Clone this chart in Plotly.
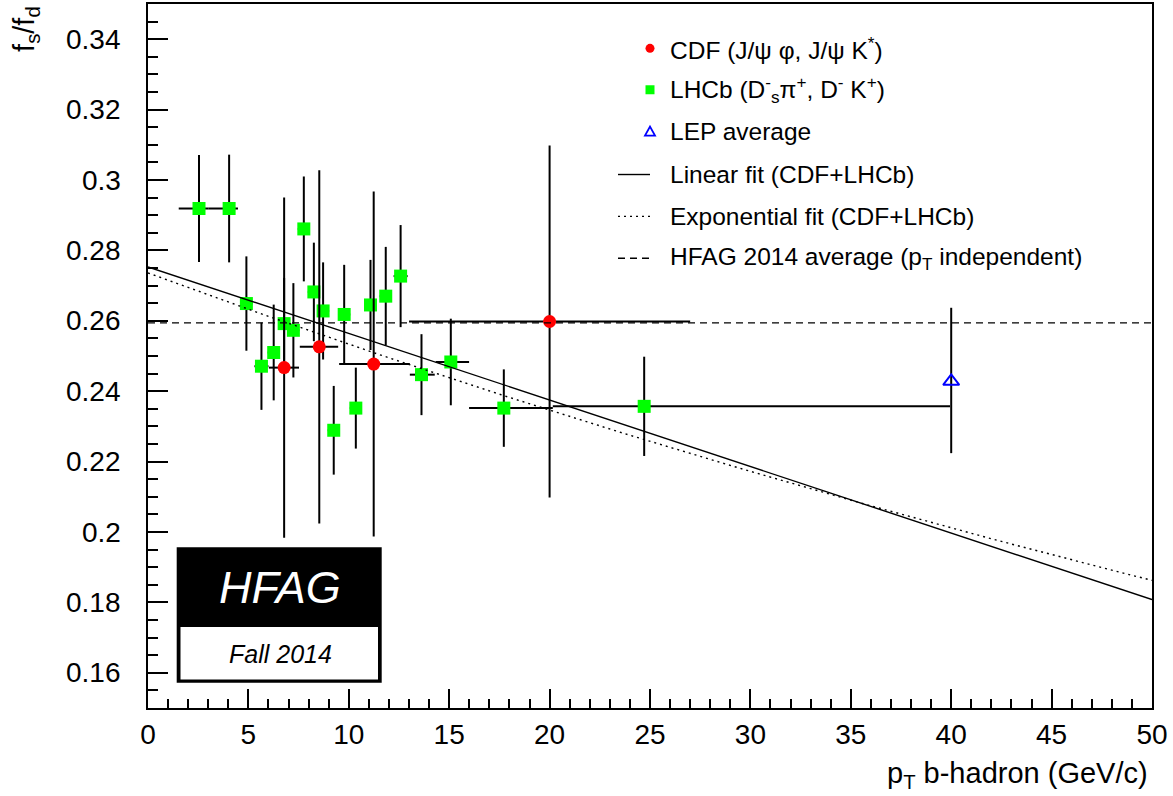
import numpy as np
import plotly.graph_objects as go

FONT = "Liberation Sans, Arial, Helvetica, sans-serif"

# ---------------- data ----------------
# LHCb (Ds- pi+, D- K+)
lhcb_pt = [2.54, 4.04, 4.90, 5.65, 6.26, 6.78, 7.24, 7.76, 8.26, 8.72,
           9.25, 9.77, 10.35, 11.08, 11.84, 12.58, 13.62, 15.08, 17.72, 24.71]
lhcb_fsfd = [0.2919, 0.2919, 0.2649, 0.2471, 0.2510, 0.2592, 0.2573, 0.2861, 0.2682, 0.2628,
             0.2289, 0.2618, 0.2352, 0.2645, 0.2670, 0.2727, 0.2447, 0.2483, 0.2352, 0.2357]
lhcb_err = [0.0152, 0.0153, 0.0134, 0.0124, 0.0136, 0.0130, 0.0134, 0.0149, 0.0140, 0.0138,
            0.0126, 0.0141, 0.0115, 0.0128, 0.0140, 0.0145, 0.0115, 0.0123, 0.0110, 0.0141]
lhcb_pt_lo = [1.01, 1.04, 0.30, 0.35, 0.30, 0.30, 0.30, 0.30, 0.30, 0.30,
              0.30, 0.30, 0.30, 0.30, 0.30, 0.35, 0.58, 0.75, 1.73, 4.55]
lhcb_pt_hi = [0.46, 0.44, 0.30, 0.35, 0.30, 0.30, 0.30, 0.30, 0.30, 0.30,
              0.30, 0.30, 0.30, 0.30, 0.30, 0.35, 0.66, 0.91, 2.44, 15.23]

# CDF (J/psi phi, J/psi K*)
cdf_pt = [6.78, 8.53, 11.24, 20.0]
cdf_fsfd = [0.2467, 0.2526, 0.2477, 0.2598]
cdf_err = [0.0483, 0.0502, 0.0490, 0.0500]
cdf_pt_lo = [0.76, 0.97, 1.72, 7.0]
cdf_pt_hi = [0.74, 0.94, 1.80, 7.0]

# LEP average
lep_pt = [40.0]
lep_fsfd = [0.2428]
lep_err_hi = [0.0209]
lep_err_lo = [0.0204]

# fits and average
lin_intercept, lin_slope = 0.2753, -0.00189
exp_norm, exp_slope = 0.2736, 0.00769
hfag_avg = 0.2594
pt_range = [0.0, 50.0]

# axis ticks
y_ticks = [0.16, 0.18, 0.20, 0.22, 0.24, 0.26, 0.28, 0.30, 0.32, 0.34]
y_tick_labels = ["0.16", "0.18", "0.2", "0.22", "0.24", "0.26", "0.28", "0.3", "0.32", "0.34"]

# ---------------- figure ----------------
fig = go.Figure()

errstyle = dict(color="black", thickness=2, width=0)

fig.add_trace(go.Scatter(
    x=lhcb_pt, y=lhcb_fsfd, mode="markers",
    marker=dict(symbol="square", size=13, color="#00ff00", line=dict(width=0)),
    error_x=dict(type="data", symmetric=False, array=lhcb_pt_hi, arrayminus=lhcb_pt_lo, **errstyle),
    error_y=dict(type="data", array=lhcb_err, **errstyle),
    showlegend=False))

fig.add_trace(go.Scatter(
    x=cdf_pt, y=cdf_fsfd, mode="markers",
    marker=dict(symbol="circle", size=13, color="#ff0000", line=dict(width=0)),
    error_x=dict(type="data", symmetric=False, array=cdf_pt_hi, arrayminus=cdf_pt_lo, **errstyle),
    error_y=dict(type="data", array=cdf_err, **errstyle),
    showlegend=False))

fig.add_trace(go.Scatter(
    x=lep_pt, y=lep_fsfd, mode="markers",
    marker=dict(symbol="triangle-up-open", size=14, color="#0000ff", line=dict(width=2, color="#0000ff")),
    error_y=dict(type="data", symmetric=False, array=lep_err_hi, arrayminus=lep_err_lo, **errstyle),
    showlegend=False))

xs = np.linspace(pt_range[0], pt_range[1], 101)
fig.add_trace(go.Scatter(
    x=pt_range, y=[lin_intercept + lin_slope * p for p in pt_range], mode="lines",
    line=dict(color="black", width=1.4), showlegend=False, hoverinfo="skip"))
fig.add_trace(go.Scatter(
    x=xs, y=exp_norm * np.exp(-exp_slope * xs), mode="lines",
    line=dict(color="black", width=1.4, dash="2px,4px"), showlegend=False, hoverinfo="skip"))
fig.add_trace(go.Scatter(
    x=pt_range, y=[hfag_avg, hfag_avg], mode="lines",
    line=dict(color="black", width=1.4, dash="7px,5px"), showlegend=False, hoverinfo="skip"))

# ---------------- layout ----------------
W, H = 1173, 796
L, R, T, B = 148, 21, 2, 88
pw, ph = W - L - R, H - T - B


def px(xp):
    return (xp - L) / pw


def py(yp):
    return (H - B - yp) / ph


fig.update_layout(
    width=W, height=H,
    margin=dict(l=L, r=R, t=T, b=B, pad=0),
    paper_bgcolor="white", plot_bgcolor="white",
    font=dict(family=FONT, color="black"),
    showlegend=False,
    xaxis=dict(range=[0, 50], showgrid=False, zeroline=False,
               showline=True, linecolor="black", linewidth=2, mirror=True,
               ticks="inside", ticklen=19, tickwidth=1.5, tickcolor="black",
               tick0=0, dtick=5, tickfont=dict(size=28, family=FONT),
               ticklabelstandoff=0,
               minor=dict(ticks="inside", dtick=1, ticklen=9, tickwidth=1.5, tickcolor="black", showgrid=False)),
    yaxis=dict(range=[0.15, 0.35], showgrid=False, zeroline=False,
               showline=True, linecolor="black", linewidth=2, mirror=True,
               ticks="inside", ticklen=20, tickwidth=1.5, tickcolor="black",
               tickvals=y_ticks, showticklabels=False,
               minor=dict(ticks="inside", dtick=0.005, tick0=0.15, ticklen=10, tickwidth=1.5, tickcolor="black", showgrid=False)),
)

shapes = []
annotations = []

# y tick labels, placed on the y scale
for v, t in zip(y_ticks, y_tick_labels):
    annotations.append(dict(text=t, xref="paper", yref="y", x=px(123), y=v,
                            xanchor="right", yanchor="middle", showarrow=False,
                            font=dict(size=28, family=FONT)))

# axis titles
annotations.append(dict(text="p<sub>T</sub> b-hadron (GeV/c)", xref="paper", yref="paper",
                        x=px(1150), y=py(775), xanchor="right", yanchor="middle",
                        showarrow=False, font=dict(size=29, family=FONT)))
annotations.append(dict(text="f<sub>s</sub>/f<sub>d</sub>", xref="paper", yref="paper",
                        x=px(26), y=py(27), xanchor="center", yanchor="middle", textangle=-90,
                        showarrow=False, font=dict(size=29, family=FONT)))

# manual legend
leg_rows = [46.5, 88, 130, 173, 215, 257]
leg_text = ["CDF (J/ψ φ, J/ψ K<sup>*</sup>)",
            "LHCb (D<sup>-</sup><sub>s</sub>π<sup>+</sup>, D<sup>-</sup> K<sup>+</sup>)",
            "LEP average",
            "Linear fit (CDF+LHCb)",
            "Exponential fit (CDF+LHCb)",
            "HFAG 2014 average (p<sub>T</sub> independent)"]
for yr, txt in zip(leg_rows, leg_text):
    annotations.append(dict(text=txt, xref="paper", yref="paper", x=px(668), y=py(yr),
                            xanchor="left", yanchor="middle", showarrow=False,
                            font=dict(size=24.5, family=FONT)))
mx = px(650)
shapes.append(dict(type="circle", xref="paper", yref="paper", xsizemode="pixel", ysizemode="pixel",
                   xanchor=mx, yanchor=py(leg_rows[0]), x0=-4.5, x1=4.5, y0=-4.5, y1=4.5,
                   fillcolor="#ff0000", line=dict(width=0)))
shapes.append(dict(type="rect", xref="paper", yref="paper", xsizemode="pixel", ysizemode="pixel",
                   xanchor=mx, yanchor=py(leg_rows[1]), x0=-4.5, x1=4.5, y0=-4.5, y1=4.5,
                   fillcolor="#00ff00", line=dict(width=0)))
shapes.append(dict(type="path", xref="paper", yref="paper", xsizemode="pixel", ysizemode="pixel",
                   xanchor=mx, yanchor=py(leg_rows[2]), path="M -5,-4 L 5,-4 L 0,5 Z",
                   fillcolor="rgba(0,0,0,0)", line=dict(color="#0000ff", width=1.8)))
for yr, dash in zip(leg_rows[3:], ["solid", "2px,4px", "7px,5px"]):
    shapes.append(dict(type="line", xref="paper", yref="paper", x0=px(618), x1=px(650),
                       y0=py(yr), y1=py(yr), line=dict(color="black", width=1.4, dash=dash)))

# HFAG logo
shapes.append(dict(type="rect", xref="paper", yref="paper", x0=px(176.7), x1=px(381.7),
                   y0=py(682.7), y1=py(546.7), fillcolor="black", line=dict(width=0), layer="above"))
shapes.append(dict(type="rect", xref="paper", yref="paper", x0=px(180.5), x1=px(378),
                   y0=py(679.3), y1=py(626.7), fillcolor="white", line=dict(width=0), layer="above"))
annotations.append(dict(text="<i>HFAG</i>", xref="paper", yref="paper", x=px(280), y=py(587),
                        xanchor="center", yanchor="middle", showarrow=False,
                        font=dict(size=45, color="white", family=FONT)))
annotations.append(dict(text="<i>Fall 2014</i>", xref="paper", yref="paper", x=px(280), y=py(654),
                        xanchor="center", yanchor="middle", showarrow=False,
                        font=dict(size=25, color="black", family=FONT)))

fig.update_layout(shapes=shapes, annotations=annotations)

fig.write_html("out.html", config={"displayModeBar": False},
               post_script="document.body.style.margin='0px';")
